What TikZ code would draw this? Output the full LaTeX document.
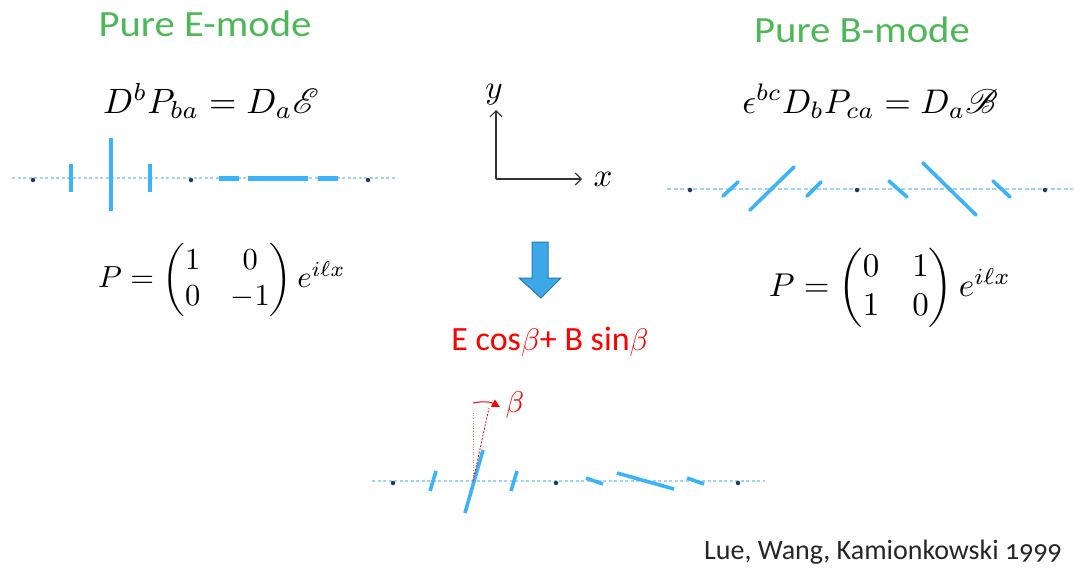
\documentclass[tikz,border=0pt]{standalone}
\usepackage{amsmath}
\usepackage{mathrsfs}
\usepackage{fontspec}
\setmainfont{Carlito}
\newfontfamily\citefont[Numbers=OldStyle]{Carlito}
\newfontfamily\headfont[FakeStretch=1.1]{Carlito}
\usetikzlibrary{arrows.meta}
\definecolor{modegreen}{RGB}{78,184,88}
\definecolor{stickblue}{RGB}{58,180,246}
\definecolor{lineblue}{RGB}{160,212,246}
\definecolor{dotnavy}{RGB}{30,60,90}
\definecolor{arrowfill}{RGB}{60,168,232}
\definecolor{arrowedge}{RGB}{40,120,175}
\tikzset{
  heading/.style={text=modegreen, font=\headfont\fontsize{37}{40}\selectfont, anchor=base, inner sep=0pt},
  eqn/.style={scale=3.42, anchor=base, inner sep=0pt},
  matx/.style={inner sep=0pt},
  baseline line/.style={lineblue, line width=2pt, dash pattern=on 3pt off 2.5pt},
  basedot/.style={circle, fill=dotnavy, inner sep=0pt, minimum size=4.5pt},
  stick/.style={stickblue, line width=3.6pt},
  axis/.style={line width=1.2pt, black!80, -{Straight Barb[length=6pt,width=12pt]}},
}
\begin{document}
\begin{tikzpicture}[x=1pt,y=-1pt]
\useasboundingbox (0,0) rectangle (1074,574);
\fill[white] (0,0) rectangle (1074,574);

% headings
\node[heading] (hE) at (205,36) {Pure E-mode};
\node[heading] (hB) at (862,42) {Pure B-mode};

% equations
\node[eqn, scale=3.52/3.42] (eqE) at (211,113) {$D^bP_{ba}=D_a\mathscr{E}$};
\node[eqn] (eqB) at (870,113) {$\epsilon^{bc}D_bP_{ca}=D_a\mathscr{B}$};

% matrices
\node[matx, scale=3.05] (mE) at (222,280) {$P=\begin{pmatrix}1&0\\0&-1\end{pmatrix}e^{i\ell x}$};
\node[matx, scale=3.3] (mB) at (890,288) {$P=\begin{pmatrix}0&1\\1&0\end{pmatrix}e^{i\ell x}$};

% axes
\coordinate (O) at (496,179);
\coordinate (Ytip) at (496,110);
\coordinate (Xtip) at (582,179);
\draw[axis] (O) -- (Ytip);
\draw[axis] (O) -- (Xtip);
\node[scale=3.3] (ylab) at (494,95) {$y$};
\node[scale=3.3] (xlab) at (603,179) {$x$};

% E-mode line
\coordinate (eL) at (12,178);
\coordinate (eR) at (397,178);
\draw[baseline line] (eL) -- (eR);
\draw[stick, line width=4pt] (71,164) -- (71,192);
\draw[stick, line width=3.6pt] (111,138) -- (111,211);
\draw[stick, line width=4pt] (150,164) -- (150,192);
\draw[stick, line width=5pt] (219,178) -- (239,178);
\draw[stick, line width=5pt] (248,178) -- (308,178);
\draw[stick, line width=5pt] (318,178) -- (338,178);
\node[basedot] (e1) at (33,180) {};
\node[basedot] (e2) at (191,180) {};
\node[basedot] (e3) at (368,180) {};

% B-mode line
\coordinate (bL) at (667,189);
\coordinate (bR) at (1073,189);
\draw[baseline line, dash pattern=on 4pt off 2.5pt] (bL) -- (bR);
\draw[stick, line cap=round] (723,196) -- (738,182);
\draw[stick, line cap=round] (750,210) -- (794,167);
\draw[stick, line cap=round] (807,196) -- (821,182);
\draw[stick, line cap=round] (889,181) -- (907,197);
\draw[stick, line cap=round] (923,163) -- (976,215);
\draw[stick, line cap=round] (993,181) -- (1010,197);
\node[basedot] (b1) at (690,190) {};
\node[basedot] (b2) at (857,190) {};
\node[basedot] (b3) at (1045,190) {};

% block arrow
\draw[fill=arrowfill, draw=arrowedge, line width=1pt, line join=miter]
  (532,242) -- (548,242) -- (548,278) -- (561,278) -- (541,298) -- (519,278) -- (532,278) -- cycle;

% mixed label
\node[text=red, font=\fontsize{34}{38}\selectfont, anchor=base, inner sep=0pt] (mix) at (550,350)
  {E cos\scalebox{1.25}{$\beta$}+ B sin\scalebox{1.25}{$\beta$}};

% mixed line
\coordinate (mL) at (372,481);
\coordinate (mR) at (765,481);
\draw[baseline line] (mL) -- (mR);
\draw[stick] (430,491) -- (436,471);
\draw[stick] (465,513) -- (483,450);
\draw[stick] (511,491) -- (517,471);
\draw[stick] (586,478) -- (603,484);
\draw[stick] (617,473) -- (674,489);
\draw[stick] (687,478) -- (704,484);
\node[basedot] (m1) at (393,483) {};
\node[basedot] (m2) at (556,483) {};
\node[basedot] (m3) at (738,483) {};

% beta angle
\coordinate (pivot) at (473,481);
\coordinate (vtop) at (473,413);
\coordinate (rtop) at (489,408);
\draw[red!55, line width=0.6pt, dotted] (pivot) -- (vtop);
\draw[red, line width=0.8pt, dash pattern=on 2pt off 1.5pt] (pivot) -- (rtop);
\coordinate (arcS) at (473,403);
\coordinate (arcE) at (500,407);
\draw[red, line width=1pt, -{Triangle[length=8pt,width=8pt]}] (arcS) to[bend left=20] (arcE);
\node[text=red, scale=3.0] (betalab) at (515,405) {$\beta$};

% citation
\node[font=\citefont\fontsize{28}{31}\selectfont, text=black!85, anchor=base, inner sep=0pt] (cite) at (883,559) {Lue, Wang, Kamionkowski 1999};
\end{tikzpicture}
\end{document}
